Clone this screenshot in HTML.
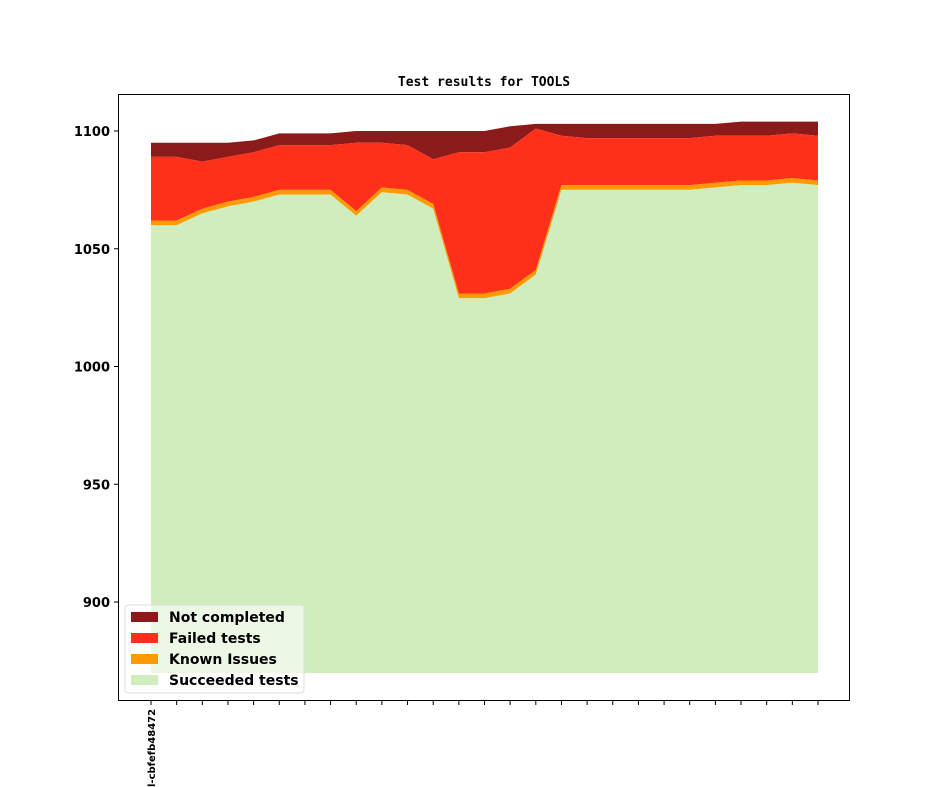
<!DOCTYPE html>
<html><head><meta charset="utf-8"><style>body{margin:0;background:#fff}svg{display:block}</style></head>
<body>
<svg id="s" width="944" height="787" xmlns="http://www.w3.org/2000/svg" font-family="DejaVu Sans, Liberation Sans, sans-serif">
<rect width="944" height="787" fill="#fff"/>
<text x="484" y="86" text-anchor="middle" font-family="DejaVu Sans Mono, Liberation Mono, monospace" font-weight="bold" font-size="13">Test results for TOOLS</text>
<g id="areas"></g>
<rect x="118.5" y="94.5" width="731" height="606" fill="none" stroke="#000" stroke-width="1"/>
<g id="ticks" font-weight="bold" font-size="13"></g>
<g font-weight="bold" font-size="14">
<rect x="125" y="605" width="179" height="88" rx="3" fill="#fff" fill-opacity="0.6" stroke="#ddd"/>
<rect x="131" y="612" width="27" height="10" fill="#8b1a1a"/><text x="169" y="622">Not completed</text>
<rect x="131" y="633" width="27" height="10" fill="#ff3019"/><text x="169" y="643">Failed tests</text>
<rect x="131" y="654" width="27" height="10" fill="#ff9a00"/><text x="169" y="664">Known Issues</text>
<rect x="131" y="675" width="27" height="10" fill="#cfedbd"/><text x="169" y="685">Succeeded tests</text>
</g>
<text transform="translate(155,787) rotate(-90)" font-weight="bold" font-size="10">l-cbfefb48472</text>
</svg>
<script>
var S=[1060,1060,1065,1068,1070,1073,1073,1073,1064,1074,1073,1067,1029,1029,1031,1039,1075,1075,1075,1075,1075,1075,1076,1077,1077,1078,1077];
var F=[1089,1089,1087,1089,1091,1094,1094,1094,1095,1095,1094,1088,1091,1091,1093,1101,1098,1097,1097,1097,1097,1097,1098,1098,1098,1099,1098];
var N=[1095,1095,1095,1095,1096,1099,1099,1099,1100,1100,1100,1100,1100,1100,1102,1103,1103,1103,1103,1103,1103,1103,1103,1104,1104,1104,1104];
var K=S.map(v=>v+2);
function X(i){return 151+i*(667/26)}
function Y(v){return 131+(1100-v)*2.355}
function poly(top,bot,col){var p=[];for(var i=0;i<27;i++)p.push(X(i)+','+Y(top[i]));for(var i=26;i>=0;i--)p.push(X(i)+','+(bot?Y(bot[i]):673));return '<polygon points="'+p.join(' ')+'" fill="'+col+'"/>'}
var h=poly(N,F,'#8b1a1a')+poly(F,K,'#ff3019')+poly(K,S,'#ff9a00')+poly(S,null,'#cfedbd');
document.getElementById('areas').innerHTML=h;
var t='';
[1100,1050,1000,950,900].forEach(v=>{var y=Y(v);t+='<line x1="114" x2="118" y1="'+y+'" y2="'+y+'" stroke="#000"/><text x="110" y="'+(y+5)+'" text-anchor="end">'+v+'</text>'});
for(var i=0;i<27;i++){var x=X(i);t+='<line x1="'+x+'" x2="'+x+'" y1="701" y2="705" stroke="#000"/>'}
document.getElementById('ticks').innerHTML=t;
</script>
</body></html>
